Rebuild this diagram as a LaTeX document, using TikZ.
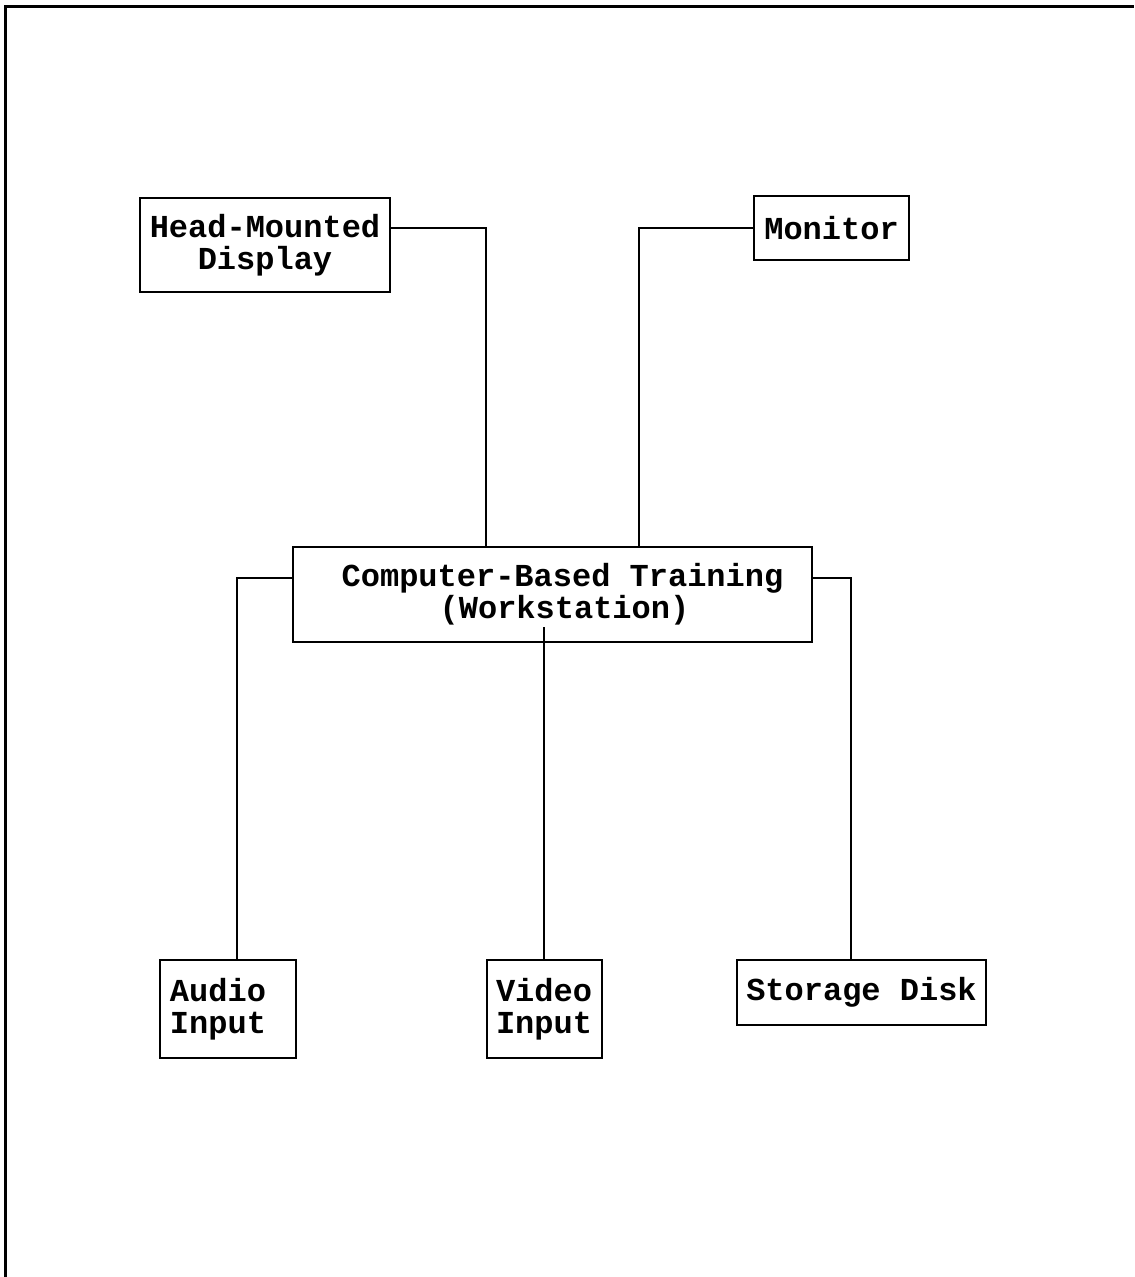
\documentclass[tikz,border=0pt]{standalone}
\usepackage{fontspec}
\setmonofont{Liberation Mono}
\usepackage{tikz}

\tikzset{box/.style={draw,line width=1pt,inner sep=0pt,align=center,
    font=\ttfamily\bfseries\fontsize{16}{16}\selectfont}}

\begin{document}
\begin{tikzpicture}[x=0.5pt,y=-0.5pt,line width=0.9pt]
  \useasboundingbox (0,0) rectangle (1134,1277);
  \draw[line width=1.5pt] (5,1277) -- (5,7) -- (1134,7);
  \node[box,minimum width=125pt,minimum height=47pt] (hmd) at (265,245) {Head-Mounted\\Display};
  \node[box,minimum width=77.5pt,minimum height=32pt] (mon) at (831.5,228) {Monitor};
  \node[box,minimum width=259.5pt,minimum height=47.5pt] (cbt) at (552.5,594.5) {\hspace*{10pt}Computer-Based Training\\\hspace*{12pt}(Workstation)};
  \node[box,minimum width=68pt,minimum height=49pt,align=left] (aud) at (228,1009) {Audio\\Input\hspace*{10pt}};
  \node[box,minimum width=57.5pt,minimum height=49pt] (vid) at (544,1009) {Video\\Input};
  \node[box,minimum width=124.5pt,minimum height=32.5pt] (disk) at (861.5,992.5) {Storage Disk};
  \coordinate (hmdtap) at (486,228);
  \coordinate (montap) at (639,228);
  \coordinate (audtap) at (237,578);
  \coordinate (disktap) at (851,578);
  \coordinate (vidtap) at (544,627);
  \draw (hmd.east |- hmdtap) -| (hmdtap |- cbt.north);
  \draw (mon.west |- montap) -| (montap |- cbt.north);
  \draw (cbt.west |- audtap) -| (audtap |- aud.north);
  \draw (cbt.east |- disktap) -| (disktap |- disk.north);
  \draw (vidtap) -- (vid.north);
\end{tikzpicture}
\end{document}
